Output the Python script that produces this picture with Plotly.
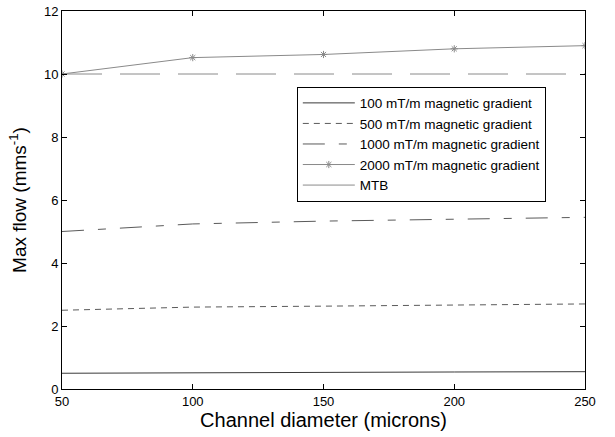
import plotly.graph_objects as go

diameters = [50, 100, 150, 200, 250]
flow_100 = [0.5, 0.52, 0.53, 0.54, 0.55]
flow_500 = [2.5, 2.6, 2.63, 2.67, 2.7]
flow_1000 = [5.0, 5.24, 5.33, 5.4, 5.45]
flow_2000 = [10.0, 10.52, 10.62, 10.8, 10.9]
flow_mtb = [10.0, 10.0, 10.0, 10.0, 10.0]

fig = go.Figure()
fig.add_trace(go.Scatter(x=diameters, y=flow_100, mode="lines", name="100 mT/m magnetic gradient",
                         line=dict(color="#3a3a3a", width=1)))
fig.add_trace(go.Scatter(x=diameters, y=flow_500, mode="lines", name="500 mT/m magnetic gradient",
                         line=dict(color="#5a5a5a", width=1, dash="6px,5px")))
fig.add_trace(go.Scatter(x=diameters, y=flow_1000, mode="lines", name="1000 mT/m magnetic gradient",
                         line=dict(color="#5a5a5a", width=1, dash="22px,14px,8px,14px")))
fig.add_trace(go.Scatter(x=diameters, y=flow_2000, mode="lines+markers", name="2000 mT/m magnetic gradient",
                         line=dict(color="#8a8a8a", width=1),
                         marker=dict(symbol="asterisk-open", size=6, color="#8a8a8a",
                                     line=dict(color="#8a8a8a", width=1))))
fig.add_trace(go.Scatter(x=diameters, y=flow_mtb, mode="lines", name="MTB", showlegend=False,
                         legendgroup="mtb",
                         line=dict(color="#8a8a8a", width=1, dash="40px,18px")))
fig.add_trace(go.Scatter(x=[None], y=[None], mode="lines", name="MTB", legendgroup="mtb",
                         line=dict(color="#8a8a8a", width=1)))

axis_common = dict(showgrid=False, zeroline=False, showline=True, linecolor="black", linewidth=1,
                   mirror="ticks", ticks="inside", ticklen=5, tickcolor="black", automargin=False,
                   tickfont=dict(family="Arial, Liberation Sans, sans-serif", size=13, color="black"))

fig.update_layout(
    width=615, height=437,
    margin=dict(l=62, r=30, t=11, b=48),
    paper_bgcolor="white", plot_bgcolor="white",
    font=dict(family="Arial, Liberation Sans, sans-serif", color="black"),
    xaxis=dict(range=[50, 250], tickvals=[50, 100, 150, 200, 250],
               title=dict(text="Channel diameter (microns)", font=dict(size=20), standoff=2),
               **axis_common),
    yaxis=dict(range=[0, 12], tickvals=[0, 2, 4, 6, 8, 10, 12],
               title=dict(text="Max flow (mms<sup>-1</sup>)", font=dict(size=19), standoff=12),
               **axis_common),
    legend=dict(x=0.449, y=0.80, xanchor="left", yanchor="top",
                bgcolor="white", bordercolor="black", borderwidth=1,
                font=dict(size=13.5), tracegroupgap=0, itemwidth=52,
                traceorder="normal"),
    showlegend=True,
)

fig.write_html("out.html", config={"displayModeBar": False},
               post_script="document.body.style.margin='0';document.body.style.overflow='hidden';")
